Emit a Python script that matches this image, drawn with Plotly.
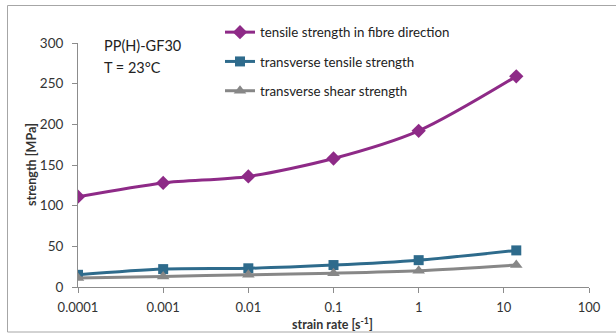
import plotly.graph_objects as go

strain_rate = [0.0001, 0.001, 0.01, 0.1, 1, 14]
tensile_fibre = [111, 128, 136, 158, 192, 259]
transverse_tensile = [15, 22, 23, 27, 33, 45]
transverse_shear = [11, 13, 15, 17, 20, 27]

x_ticks = [0.0001, 0.001, 0.01, 0.1, 1, 10, 100]
x_tick_labels = ["0.0001", "0.001", "0.01", "0.1", "1", "10", "100"]
y_ticks = [0, 50, 100, 150, 200, 250, 300]

series = [
    ("tensile strength in fibre direction", tensile_fibre, "#8E2A87", "diamond", 11),
    ("transverse tensile strength", transverse_tensile, "#2E6B8C", "square", 10),
    ("transverse shear strength", transverse_shear, "#878787", "triangle-up", 11),
]

FONT = "Lato"
TXT = "#333333"
fig = go.Figure()
for i, (name, vals, color, sym, ms) in enumerate(series):
    fig.add_trace(go.Scatter(
        x=strain_rate, y=vals, name=name, mode="lines+markers",
        line=dict(color=color, width=3, shape="spline", smoothing=0.8),
        marker=dict(symbol=sym, size=ms, color=color),
        legendgroup=f"g{i}",
    ))

W, H = 616, 334
L, R, T, B = 78, 27, 43, 47
pw, ph = W - L - R, H - T - B

def px(x):
    return (x - L) / pw

def py(y):
    return (H - B - y) / ph

def cx(x):
    return x / W

def cy(y):
    return 1 - y / H

fig.update_layout(
    width=W, height=H,
    margin=dict(l=L, r=R, t=T, b=B, autoexpand=False),
    paper_bgcolor="white", plot_bgcolor="white",
    font=dict(family=FONT, size=12, color=TXT),
    showlegend=True,
    legend=dict(
        xref="container", yref="container",
        x=cx(220), y=cy(17), xanchor="left", yanchor="top",
        bgcolor="rgba(0,0,0,0)", font=dict(family=FONT, size=13.3, color="#222222"),
        tracegroupgap=9, itemwidth=30,
    ),
    xaxis=dict(
        type="log", range=[-4, 2], tickvals=x_ticks, ticktext=x_tick_labels,
        showgrid=False, zeroline=False, showline=True, linecolor="#8C8C8C", linewidth=1,
        ticks="outside", ticklen=5, tickcolor="#8C8C8C", ticklabelstandoff=3,
        tickfont=dict(family=FONT, size=13, color=TXT),
    ),
    yaxis=dict(
        range=[0, 300], tickvals=y_ticks,
        showgrid=False, zeroline=False, showline=True, linecolor="#8C8C8C", linewidth=1,
        ticks="outside", ticklen=5, tickcolor="#8C8C8C", ticklabelstandoff=6,
        tickfont=dict(family=FONT, size=13.5, color=TXT),
    ),
    shapes=[dict(
        type="rect", xref="paper", yref="paper",
        x0=px(7.5), x1=px(622), y0=py(332), y1=py(5.5),
        line=dict(color="#A6A6A6", width=1), layer="below",
    )],
    annotations=[
        dict(text="PP(H)-GF30", x=px(102), y=py(46), xref="paper", yref="paper",
             xanchor="left", yanchor="middle", showarrow=False,
             font=dict(family=FONT, size=14.5, color="#222222")),
        dict(text="T = 23°C", x=px(102), y=py(67), xref="paper", yref="paper",
             xanchor="left", yanchor="middle", showarrow=False,
             font=dict(family=FONT, size=14.5, color="#222222")),
        dict(text="<b>strength [MPa]</b>", x=px(31), y=py(165), xref="paper", yref="paper",
             xanchor="center", yanchor="middle", showarrow=False, textangle=-90,
             font=dict(family=FONT, size=12.5, color=TXT)),
        dict(text="<b>strain rate [s<sup>-1</sup>]</b>", x=px(332), y=py(323), xref="paper", yref="paper",
             xanchor="center", yanchor="middle", showarrow=False,
             font=dict(family=FONT, size=12.5, color=TXT)),
    ],
)

fig.write_html("out.html", config={"displayModeBar": False},
               post_script="document.body.style.margin='0';")
